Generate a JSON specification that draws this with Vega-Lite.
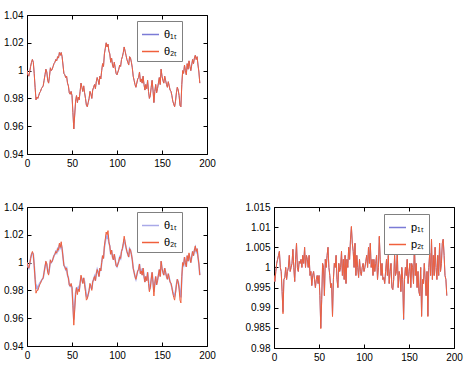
{
"$schema":"https://vega.github.io/schema/vega-lite/v6.json",
"padding":{"left":3,"top":10,"right":5,"bottom":5},
"background":"white",
"config":{"font":"Liberation Sans","view":{"stroke":null},
"axis":{"grid":false,"domainColor":"black","tickColor":"black","tickSize":-4,"labelPadding":8,"labelFontSize":10,"labelColor":"black","title":null,"labelFlush":false,"labelOverlap":false},
"legend":{"orient":"none","title":null,"strokeColor":"#808080","fillColor":"white","padding":4,"symbolType":"stroke","symbolSize":289,"labelFontSize":11,"labelColor":"black","rowPadding":2}},
"data":{"values":[
{"t":0,"a":1.000,"b1":1.000,"b2":1.000,"p1":0.998,"p2":0.998},
{"t":1,"a":0.997,"b1":0.997,"b2":0.997,"p1":0.9965,"p2":0.9965},
{"t":2,"a":0.996,"b1":0.996,"b2":0.996,"p1":0.999,"p2":0.999},
{"t":3,"a":0.999,"b1":0.999,"b2":0.999,"p1":1.001,"p2":1.001},
{"t":4,"a":1.003,"b1":1.003,"b2":1.003,"p1":1.002,"p2":1.002},
{"t":5,"a":1.006,"b1":1.006,"b2":1.006,"p1":1.003,"p2":1.003},
{"t":6,"a":1.008,"b1":1.007,"b2":1.008,"p1":1.004,"p2":1.004},
{"t":7,"a":1.006,"b1":1.006,"b2":1.006,"p1":1.000,"p2":1.000},
{"t":8,"a":0.998,"b1":0.998,"b2":0.998,"p1":0.999,"p2":0.999},
{"t":9,"a":0.988,"b1":0.989,"b2":0.988,"p1":0.994,"p2":0.994},
{"t":10,"a":0.979,"b1":0.981,"b2":0.978,"p1":0.989,"p2":0.9885},
{"t":11,"a":0.981,"b1":0.983,"b2":0.980,"p1":0.997,"p2":0.997},
{"t":12,"a":0.980,"b1":0.981,"b2":0.980,"p1":0.9975,"p2":0.9975},
{"t":13,"a":0.982,"b1":0.983,"b2":0.982,"p1":1.000,"p2":1.000},
{"t":14,"a":0.984,"b1":0.985,"b2":0.984,"p1":0.997,"p2":0.997},
{"t":15,"a":0.985,"b1":0.986,"b2":0.985,"p1":0.999,"p2":0.999},
{"t":16,"a":0.987,"b1":0.987,"b2":0.987,"p1":1.000,"p2":1.000},
{"t":17,"a":0.988,"b1":0.988,"b2":0.988,"p1":1.003,"p2":1.003},
{"t":18,"a":0.989,"b1":0.989,"b2":0.989,"p1":0.999,"p2":0.999},
{"t":19,"a":0.993,"b1":0.993,"b2":0.993,"p1":1.000,"p2":1.000},
{"t":20,"a":0.997,"b1":0.997,"b2":0.997,"p1":1.001,"p2":1.001},
{"t":21,"a":1.001,"b1":1.000,"b2":1.001,"p1":1.0045,"p2":1.0045},
{"t":22,"a":0.999,"b1":0.999,"b2":0.999,"p1":1.000,"p2":1.000},
{"t":23,"a":0.993,"b1":0.994,"b2":0.993,"p1":0.9965,"p2":0.9965},
{"t":24,"a":0.991,"b1":0.992,"b2":0.991,"p1":1.002,"p2":1.002},
{"t":25,"a":0.996,"b1":0.996,"b2":0.996,"p1":1.006,"p2":1.006},
{"t":26,"a":1.002,"b1":1.001,"b2":1.002,"p1":1.000,"p2":1.000},
{"t":27,"a":1.000,"b1":1.000,"b2":1.000,"p1":0.999,"p2":0.999},
{"t":28,"a":1.001,"b1":1.001,"b2":1.001,"p1":1.0015,"p2":1.0015},
{"t":29,"a":1.003,"b1":1.003,"b2":1.003,"p1":1.001,"p2":1.001},
{"t":30,"a":1.005,"b1":1.005,"b2":1.005,"p1":1.002,"p2":1.002},
{"t":31,"a":1.006,"b1":1.006,"b2":1.006,"p1":1.000,"p2":1.000},
{"t":32,"a":1.008,"b1":1.008,"b2":1.008,"p1":1.003,"p2":1.003},
{"t":33,"a":1.007,"b1":1.007,"b2":1.007,"p1":1.001,"p2":1.001},
{"t":34,"a":1.010,"b1":1.010,"b2":1.010,"p1":1.005,"p2":1.005},
{"t":35,"a":1.009,"b1":1.009,"b2":1.009,"p1":1.000,"p2":1.000},
{"t":36,"a":1.013,"b1":1.013,"b2":1.014,"p1":1.003,"p2":1.003},
{"t":37,"a":1.011,"b1":1.011,"b2":1.011,"p1":1.002,"p2":1.002},
{"t":38,"a":1.013,"b1":1.013,"b2":1.015,"p1":1.000,"p2":1.000},
{"t":39,"a":1.010,"b1":1.010,"b2":1.010,"p1":1.003,"p2":1.003},
{"t":40,"a":1.004,"b1":1.004,"b2":1.004,"p1":0.998,"p2":0.998},
{"t":41,"a":0.998,"b1":0.998,"b2":0.998,"p1":0.999,"p2":0.999},
{"t":42,"a":0.997,"b1":0.997,"b2":0.997,"p1":0.9955,"p2":0.9955},
{"t":43,"a":0.995,"b1":0.995,"b2":0.995,"p1":0.998,"p2":0.998},
{"t":44,"a":0.996,"b1":0.996,"b2":0.996,"p1":0.999,"p2":0.999},
{"t":45,"a":0.991,"b1":0.991,"b2":0.991,"p1":0.997,"p2":0.997},
{"t":46,"a":0.989,"b1":0.989,"b2":0.989,"p1":0.995,"p2":0.995},
{"t":47,"a":0.984,"b1":0.984,"b2":0.984,"p1":0.997,"p2":0.997},
{"t":48,"a":0.983,"b1":0.983,"b2":0.983,"p1":0.998,"p2":0.998},
{"t":49,"a":0.985,"b1":0.984,"b2":0.985,"p1":0.996,"p2":0.996},
{"t":50,"a":0.982,"b1":0.982,"b2":0.982,"p1":0.998,"p2":0.998},
{"t":51,"a":0.970,"b1":0.971,"b2":0.969,"p1":0.993,"p2":0.993},
{"t":52,"a":0.958,"b1":0.959,"b2":0.955,"p1":0.985,"p2":0.9848},
{"t":53,"a":0.968,"b1":0.969,"b2":0.966,"p1":0.992,"p2":0.992},
{"t":54,"a":0.978,"b1":0.978,"b2":0.977,"p1":1.001,"p2":1.001},
{"t":55,"a":0.982,"b1":0.982,"b2":0.982,"p1":1.000,"p2":1.000},
{"t":56,"a":0.977,"b1":0.980,"b2":0.977,"p1":0.993,"p2":0.993},
{"t":57,"a":0.981,"b1":0.982,"b2":0.981,"p1":1.002,"p2":1.002},
{"t":58,"a":0.979,"b1":0.980,"b2":0.979,"p1":1.000,"p2":1.000},
{"t":59,"a":0.985,"b1":0.985,"b2":0.985,"p1":1.003,"p2":1.003},
{"t":60,"a":0.991,"b1":0.990,"b2":0.991,"p1":1.005,"p2":1.005},
{"t":61,"a":0.988,"b1":0.988,"b2":0.988,"p1":1.000,"p2":1.000},
{"t":62,"a":0.985,"b1":0.985,"b2":0.985,"p1":0.998,"p2":0.998},
{"t":63,"a":0.989,"b1":0.989,"b2":0.989,"p1":0.995,"p2":0.995},
{"t":64,"a":0.984,"b1":0.986,"b2":0.984,"p1":0.996,"p2":0.996},
{"t":65,"a":0.980,"b1":0.981,"b2":0.979,"p1":0.988,"p2":0.9878},
{"t":66,"a":0.975,"b1":0.976,"b2":0.973,"p1":0.997,"p2":0.997},
{"t":67,"a":0.974,"b1":0.975,"b2":0.974,"p1":1.001,"p2":1.001},
{"t":68,"a":0.977,"b1":0.977,"b2":0.977,"p1":1.000,"p2":1.000},
{"t":69,"a":0.980,"b1":0.980,"b2":0.980,"p1":1.003,"p2":1.003},
{"t":70,"a":0.985,"b1":0.984,"b2":0.985,"p1":0.997,"p2":0.997},
{"t":71,"a":0.983,"b1":0.983,"b2":0.983,"p1":0.995,"p2":0.995},
{"t":72,"a":0.980,"b1":0.981,"b2":0.980,"p1":1.001,"p2":1.001},
{"t":73,"a":0.986,"b1":0.986,"b2":0.986,"p1":0.999,"p2":0.999},
{"t":74,"a":0.988,"b1":0.988,"b2":0.988,"p1":1.000,"p2":1.000},
{"t":75,"a":0.990,"b1":0.990,"b2":0.990,"p1":1.004,"p2":1.004},
{"t":76,"a":0.987,"b1":0.987,"b2":0.987,"p1":0.998,"p2":0.998},
{"t":77,"a":0.992,"b1":0.992,"b2":0.992,"p1":1.002,"p2":1.002},
{"t":78,"a":0.995,"b1":0.995,"b2":0.995,"p1":0.997,"p2":0.997},
{"t":79,"a":0.993,"b1":0.993,"b2":0.993,"p1":1.003,"p2":1.003},
{"t":80,"a":0.990,"b1":0.990,"b2":0.990,"p1":0.996,"p2":0.996},
{"t":81,"a":0.996,"b1":0.996,"b2":0.996,"p1":1.002,"p2":1.002},
{"t":82,"a":0.994,"b1":0.994,"b2":0.994,"p1":1.000,"p2":1.000},
{"t":83,"a":1.000,"b1":1.000,"b2":1.000,"p1":1.005,"p2":1.005},
{"t":84,"a":1.005,"b1":1.005,"b2":1.005,"p1":1.002,"p2":1.002},
{"t":85,"a":1.003,"b1":1.003,"b2":1.003,"p1":1.007,"p2":1.007},
{"t":86,"a":1.012,"b1":1.011,"b2":1.012,"p1":1.010,"p2":1.0102},
{"t":87,"a":1.016,"b1":1.015,"b2":1.017,"p1":1.006,"p2":1.006},
{"t":88,"a":1.020,"b1":1.019,"b2":1.022,"p1":1.004,"p2":1.004},
{"t":89,"a":1.017,"b1":1.018,"b2":1.020,"p1":1.000,"p2":1.000},
{"t":90,"a":1.019,"b1":1.020,"b2":1.023,"p1":1.006,"p2":1.006},
{"t":91,"a":1.014,"b1":1.014,"b2":1.015,"p1":0.998,"p2":0.998},
{"t":92,"a":1.012,"b1":1.012,"b2":1.012,"p1":1.003,"p2":1.003},
{"t":93,"a":1.006,"b1":1.006,"b2":1.006,"p1":1.000,"p2":1.000},
{"t":94,"a":1.009,"b1":1.009,"b2":1.009,"p1":0.9975,"p2":0.9975},
{"t":95,"a":1.004,"b1":1.004,"b2":1.004,"p1":1.002,"p2":1.002},
{"t":96,"a":1.002,"b1":1.002,"b2":1.002,"p1":0.999,"p2":0.999},
{"t":97,"a":1.006,"b1":1.006,"b2":1.006,"p1":0.998,"p2":0.998},
{"t":98,"a":1.002,"b1":1.002,"b2":1.002,"p1":1.000,"p2":1.000},
{"t":99,"a":0.998,"b1":0.998,"b2":0.998,"p1":1.001,"p2":1.001},
{"t":100,"a":0.997,"b1":0.997,"b2":0.997,"p1":0.999,"p2":0.999},
{"t":101,"a":0.999,"b1":0.999,"b2":0.999,"p1":1.000,"p2":1.000},
{"t":102,"a":1.001,"b1":1.001,"b2":1.001,"p1":1.0015,"p2":1.0015},
{"t":103,"a":1.004,"b1":1.004,"b2":1.004,"p1":1.003,"p2":1.003},
{"t":104,"a":1.003,"b1":1.003,"b2":1.003,"p1":1.000,"p2":1.000},
{"t":105,"a":1.008,"b1":1.008,"b2":1.008,"p1":1.005,"p2":1.005},
{"t":106,"a":1.010,"b1":1.010,"b2":1.010,"p1":1.001,"p2":1.001},
{"t":107,"a":1.013,"b1":1.013,"b2":1.014,"p1":1.006,"p2":1.006},
{"t":108,"a":1.017,"b1":1.017,"b2":1.019,"p1":1.000,"p2":1.000},
{"t":109,"a":1.014,"b1":1.014,"b2":1.015,"p1":1.002,"p2":1.002},
{"t":110,"a":1.011,"b1":1.011,"b2":1.011,"p1":0.998,"p2":0.998},
{"t":111,"a":1.008,"b1":1.008,"b2":1.008,"p1":1.002,"p2":1.002},
{"t":112,"a":1.006,"b1":1.006,"b2":1.006,"p1":0.999,"p2":0.999},
{"t":113,"a":1.004,"b1":1.004,"b2":1.004,"p1":1.001,"p2":1.001},
{"t":114,"a":1.010,"b1":1.010,"b2":1.010,"p1":1.003,"p2":1.003},
{"t":115,"a":1.009,"b1":1.009,"b2":1.009,"p1":0.997,"p2":0.997},
{"t":116,"a":1.006,"b1":1.006,"b2":1.006,"p1":1.000,"p2":1.000},
{"t":117,"a":1.002,"b1":1.002,"b2":1.002,"p1":1.0075,"p2":1.0078},
{"t":118,"a":0.996,"b1":0.996,"b2":0.996,"p1":1.002,"p2":1.002},
{"t":119,"a":0.993,"b1":0.993,"b2":0.993,"p1":0.998,"p2":0.998},
{"t":120,"a":0.990,"b1":0.990,"b2":0.990,"p1":1.001,"p2":1.001},
{"t":121,"a":0.988,"b1":0.988,"b2":0.988,"p1":0.997,"p2":0.997},
{"t":122,"a":0.991,"b1":0.991,"b2":0.991,"p1":0.9975,"p2":0.9975},
{"t":123,"a":0.994,"b1":0.994,"b2":0.994,"p1":0.996,"p2":0.996},
{"t":124,"a":0.995,"b1":0.995,"b2":0.995,"p1":0.999,"p2":0.999},
{"t":125,"a":0.999,"b1":0.999,"b2":0.999,"p1":1.002,"p2":1.002},
{"t":126,"a":0.992,"b1":0.992,"b2":0.992,"p1":0.998,"p2":0.998},
{"t":127,"a":0.994,"b1":0.994,"b2":0.994,"p1":1.003,"p2":1.003},
{"t":128,"a":0.991,"b1":0.991,"b2":0.991,"p1":0.996,"p2":0.996},
{"t":129,"a":0.996,"b1":0.996,"b2":0.996,"p1":0.999,"p2":0.999},
{"t":130,"a":0.990,"b1":0.990,"b2":0.990,"p1":1.001,"p2":1.001},
{"t":131,"a":0.986,"b1":0.986,"b2":0.986,"p1":0.995,"p2":0.995},
{"t":132,"a":0.990,"b1":0.990,"b2":0.990,"p1":0.9945,"p2":0.9945},
{"t":133,"a":0.987,"b1":0.987,"b2":0.987,"p1":0.997,"p2":0.997},
{"t":134,"a":0.993,"b1":0.993,"b2":0.993,"p1":1.003,"p2":1.003},
{"t":135,"a":0.985,"b1":0.987,"b2":0.985,"p1":0.998,"p2":0.998},
{"t":136,"a":0.980,"b1":0.981,"b2":0.979,"p1":0.999,"p2":0.999},
{"t":137,"a":0.982,"b1":0.982,"b2":0.982,"p1":1.004,"p2":1.004},
{"t":138,"a":0.988,"b1":0.988,"b2":0.988,"p1":0.995,"p2":0.995},
{"t":139,"a":0.993,"b1":0.993,"b2":0.993,"p1":0.999,"p2":0.999},
{"t":140,"a":0.986,"b1":0.986,"b2":0.986,"p1":0.998,"p2":0.998},
{"t":141,"a":0.977,"b1":0.979,"b2":0.976,"p1":0.994,"p2":0.994},
{"t":142,"a":0.985,"b1":0.985,"b2":0.985,"p1":1.000,"p2":1.000},
{"t":143,"a":0.990,"b1":0.990,"b2":0.990,"p1":0.997,"p2":0.997},
{"t":144,"a":0.984,"b1":0.984,"b2":0.984,"p1":0.987,"p2":0.9872},
{"t":145,"a":0.987,"b1":0.987,"b2":0.987,"p1":0.997,"p2":0.997},
{"t":146,"a":0.991,"b1":0.991,"b2":0.991,"p1":1.000,"p2":1.000},
{"t":147,"a":0.995,"b1":0.995,"b2":0.995,"p1":0.998,"p2":0.998},
{"t":148,"a":0.990,"b1":0.990,"b2":0.990,"p1":1.002,"p2":1.002},
{"t":149,"a":1.001,"b1":1.001,"b2":1.001,"p1":0.996,"p2":0.996},
{"t":150,"a":0.996,"b1":0.996,"b2":0.996,"p1":0.999,"p2":0.999},
{"t":151,"a":0.993,"b1":0.993,"b2":0.993,"p1":1.001,"p2":1.001},
{"t":152,"a":0.991,"b1":0.991,"b2":0.991,"p1":0.995,"p2":0.995},
{"t":153,"a":0.996,"b1":0.996,"b2":0.996,"p1":1.001,"p2":1.001},
{"t":154,"a":0.993,"b1":0.993,"b2":0.993,"p1":1.000,"p2":1.000},
{"t":155,"a":0.990,"b1":0.990,"b2":0.990,"p1":0.996,"p2":0.996},
{"t":156,"a":0.988,"b1":0.988,"b2":0.988,"p1":1.006,"p2":1.006},
{"t":157,"a":0.992,"b1":0.992,"b2":0.992,"p1":0.998,"p2":0.998},
{"t":158,"a":0.989,"b1":0.989,"b2":0.989,"p1":1.001,"p2":1.001},
{"t":159,"a":0.986,"b1":0.986,"b2":0.986,"p1":0.995,"p2":0.995},
{"t":160,"a":0.985,"b1":0.985,"b2":0.985,"p1":0.999,"p2":0.999},
{"t":161,"a":0.982,"b1":0.982,"b2":0.982,"p1":0.994,"p2":0.994},
{"t":162,"a":0.978,"b1":0.979,"b2":0.978,"p1":0.993,"p2":0.993},
{"t":163,"a":0.976,"b1":0.977,"b2":0.975,"p1":1.000,"p2":1.000},
{"t":164,"a":0.974,"b1":0.976,"b2":0.973,"p1":0.988,"p2":0.9878},
{"t":165,"a":0.978,"b1":0.979,"b2":0.978,"p1":0.997,"p2":0.997},
{"t":166,"a":0.984,"b1":0.984,"b2":0.984,"p1":0.996,"p2":0.996},
{"t":167,"a":0.988,"b1":0.988,"b2":0.988,"p1":1.001,"p2":1.001},
{"t":168,"a":0.986,"b1":0.986,"b2":0.986,"p1":0.997,"p2":0.997},
{"t":169,"a":0.982,"b1":0.983,"b2":0.981,"p1":0.993,"p2":0.993},
{"t":170,"a":0.975,"b1":0.977,"b2":0.973,"p1":0.999,"p2":0.999},
{"t":171,"a":0.974,"b1":0.975,"b2":0.971,"p1":0.988,"p2":0.9878},
{"t":172,"a":0.990,"b1":0.989,"b2":0.990,"p1":1.000,"p2":1.000},
{"t":173,"a":1.000,"b1":0.999,"b2":1.000,"p1":1.0035,"p2":1.0035},
{"t":174,"a":0.998,"b1":0.998,"b2":0.998,"p1":0.998,"p2":0.998},
{"t":175,"a":1.004,"b1":1.004,"b2":1.004,"p1":1.007,"p2":1.007},
{"t":176,"a":1.000,"b1":1.000,"b2":1.000,"p1":0.997,"p2":0.997},
{"t":177,"a":0.997,"b1":0.997,"b2":0.997,"p1":1.003,"p2":1.003},
{"t":178,"a":1.005,"b1":1.005,"b2":1.005,"p1":0.998,"p2":0.998},
{"t":179,"a":1.001,"b1":1.001,"b2":1.001,"p1":1.005,"p2":1.005},
{"t":180,"a":1.007,"b1":1.006,"b2":1.007,"p1":1.000,"p2":1.000},
{"t":181,"a":1.003,"b1":1.003,"b2":1.003,"p1":0.997,"p2":0.997},
{"t":182,"a":1.000,"b1":1.000,"b2":1.000,"p1":1.003,"p2":1.003},
{"t":183,"a":1.004,"b1":1.004,"b2":1.004,"p1":0.998,"p2":0.998},
{"t":184,"a":1.008,"b1":1.008,"b2":1.008,"p1":1.006,"p2":1.006},
{"t":185,"a":1.005,"b1":1.005,"b2":1.005,"p1":0.999,"p2":0.999},
{"t":186,"a":1.009,"b1":1.009,"b2":1.009,"p1":1.001,"p2":1.001},
{"t":187,"a":1.011,"b1":1.011,"b2":1.012,"p1":1.006,"p2":1.006},
{"t":188,"a":1.008,"b1":1.008,"b2":1.008,"p1":1.007,"p2":1.007},
{"t":189,"a":1.010,"b1":1.010,"b2":1.010,"p1":1.003,"p2":1.003},
{"t":190,"a":1.004,"b1":1.004,"b2":1.004,"p1":0.998,"p2":0.998},
{"t":191,"a":0.999,"b1":0.999,"b2":0.999,"p1":0.997,"p2":0.997},
{"t":192,"a":0.991,"b1":0.991,"b2":0.991,"p1":0.993,"p2":0.993}
]},
"resolve":{"scale":{"color":"independent"},"legend":{"color":"independent"}},
"vconcat":[
{"width":180,"height":139,
 "layer":[
  {"mark":{"type":"line","strokeWidth":1,"clip":true},
   "encoding":{
    "x":{"field":"t","type":"quantitative","scale":{"domain":[0,200],"nice":false},"axis":{"orient":"bottom","values":[0,50,100,150,200]}},
    "y":{"field":"a","type":"quantitative","scale":{"domain":[0.94,1.04],"nice":false,"zero":false},"axis":{"orient":"left","values":[0.94,0.96,0.98,1,1.02,1.04],"format":"~g"}},
    "color":{"datum":"θ₁ₜ","type":"nominal","scale":{"domain":["θ₁ₜ","θ₂ₜ"],"range":["#7b7bd6","#f0603c"]},"legend":{"legendX":110,"legendY":6}}}},
  {"mark":{"type":"line","strokeWidth":1,"clip":true},
   "encoding":{
    "x":{"field":"t","type":"quantitative","axis":{"orient":"top","values":[0,50,100,150,200],"labels":false}},
    "y":{"field":"a","type":"quantitative","axis":{"orient":"right","values":[0.94,0.96,0.98,1,1.02,1.04],"labels":false}},
    "color":{"datum":"θ₂ₜ","type":"nominal"}}}
 ],
 "resolve":{"axis":{"x":"independent","y":"independent"}}
},
{"hconcat":[
 {"width":180,"height":139,
  "layer":[
   {"mark":{"type":"line","strokeWidth":1.6,"clip":true},
    "encoding":{
     "x":{"field":"t","type":"quantitative","scale":{"domain":[0,200],"nice":false},"axis":{"orient":"bottom","values":[0,50,100,150,200]}},
     "y":{"field":"b1","type":"quantitative","scale":{"domain":[0.94,1.04],"nice":false,"zero":false},"axis":{"orient":"left","values":[0.94,0.96,0.98,1,1.02,1.04],"format":"~g"}},
     "color":{"datum":"θ₁ₜ","type":"nominal","scale":{"domain":["θ₁ₜ","θ₂ₜ"],"range":["#a9a9e8","#f0603c"]},"legend":{"legendX":110,"legendY":5}}}},
   {"mark":{"type":"line","strokeWidth":1,"clip":true},
    "encoding":{
     "x":{"field":"t","type":"quantitative","axis":{"orient":"top","values":[0,50,100,150,200],"labels":false}},
     "y":{"field":"b2","type":"quantitative","axis":{"orient":"right","values":[0.94,0.96,0.98,1,1.02,1.04],"labels":false}},
     "color":{"datum":"θ₂ₜ","type":"nominal"}}}
  ],
  "resolve":{"axis":{"x":"independent","y":"independent"}}
 },
 {"width":180,"height":141,
  "layer":[
   {"mark":{"type":"line","strokeWidth":1,"clip":true},
    "encoding":{
     "x":{"field":"t","type":"quantitative","scale":{"domain":[0,200],"nice":false},"axis":{"orient":"bottom","values":[0,50,100,150,200]}},
     "y":{"field":"p1","type":"quantitative","scale":{"domain":[0.98,1.015],"nice":false,"zero":false},"axis":{"orient":"left","values":[0.98,0.985,0.99,0.995,1,1.005,1.01,1.015],"format":"~g"}},
     "color":{"datum":"p₁ₜ","type":"nominal","scale":{"domain":["p₁ₜ","p₂ₜ"],"range":["#7b7bd6","#f0603c"]},"legend":{"legendX":110,"legendY":7}}}},
   {"mark":{"type":"line","strokeWidth":1,"clip":true},
    "encoding":{
     "x":{"field":"t","type":"quantitative","axis":{"orient":"top","values":[0,50,100,150,200],"labels":false}},
     "y":{"field":"p2","type":"quantitative","axis":{"orient":"right","values":[0.98,0.985,0.99,0.995,1,1.005,1.01,1.015],"labels":false}},
     "color":{"datum":"p₂ₜ","type":"nominal"}}}
  ],
  "resolve":{"axis":{"x":"independent","y":"independent"}}
 }
],"spacing":28,
"resolve":{"scale":{"color":"independent"},"legend":{"color":"independent"}}}
],"spacing":34
}
